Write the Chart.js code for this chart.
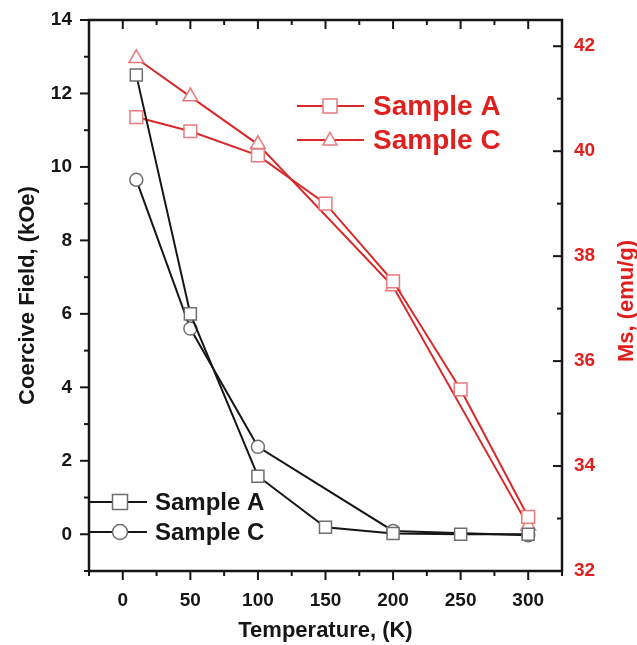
<!DOCTYPE html>
<html>
<head>
<meta charset="utf-8">
<script src="https://cdn.jsdelivr.net/npm/chart.js@4"></script>
<style>
  body { margin: 0; background: #fff; }
  #wrap { width: 637px; height: 645px; }
</style>
</head>
<body>
<div id="wrap"><canvas id="myChart"></canvas></div>
<script>
// temperatures (K)
var tempsA = [10, 50, 100, 150, 200, 250, 300];
var tempsC = [10, 50, 100, 200, 300];
// coercive field (kOe), left axis
var hcA = [12.5, 6.0, 1.58, 0.19, 0.02, 0.0, 0.0];
var hcC = [9.65, 5.6, 2.38, 0.09, -0.03];
// Ms (emu/g), right axis
var msA = [40.65, 40.38, 39.92, 39.0, 37.52, 35.46, 33.03];
var msC = [41.77, 41.04, 40.13, 37.42, 32.86];

var seriesLabels = ['Sample A', 'Sample C'];

var BLACK = '#161616';
var GREY = '#6e6e6e';
var RED = '#d8282a';
var PINK = '#e87a7c';
var RED_TEXT = '#e0201e';
var FONT = "'Liberation Sans', Arial, sans-serif";

Chart.defaults.font.family = FONT;

function pts(xs, ys) {
  return xs.map(function (x, i) { return { x: x, y: ys[i] }; });
}

// box, ticks, right title and the two in-plot legends
var frame = {
  id: 'frame',
  afterDraw: function (chart) {
    var ctx = chart.ctx, a = chart.chartArea, s = chart.scales;
    ctx.save();
    ctx.strokeStyle = BLACK;
    ctx.lineCap = 'butt';
    function seg(x1, y1, x2, y2) {
      ctx.beginPath(); ctx.moveTo(x1, y1); ctx.lineTo(x2, y2); ctx.stroke();
    }
    ctx.lineWidth = 2;
    s.x.ticks.forEach(function (t) {
      var px = s.x.getPixelForValue(t.value);
      var len = t.value % 50 === 0 ? 9 : 5;
      seg(px, a.bottom, px, a.bottom + len);
      seg(px, a.top, px, a.top + len);
    });
    s.y.ticks.forEach(function (t) {
      var py = s.y.getPixelForValue(t.value);
      var len = t.value % 2 === 0 ? 9 : 5;
      seg(a.left - len, py, a.left, py);
    });
    s.y2.ticks.forEach(function (t) {
      var py = s.y2.getPixelForValue(t.value);
      var len = t.value % 2 === 0 ? 9 : 5;
      seg(a.right - len, py, a.right, py);
    });
    ctx.lineWidth = 2.5;
    ctx.strokeRect(a.left, a.top, a.right - a.left, a.bottom - a.top);

    // right axis title
    ctx.save();
    ctx.translate(627, 301);
    ctx.rotate(-Math.PI / 2);
    ctx.fillStyle = RED_TEXT;
    ctx.font = 'bold 22px ' + FONT;
    ctx.textAlign = 'center';
    ctx.textBaseline = 'middle';
    ctx.fillText('Ms, (emu/g)', 0, 0);
    ctx.restore();

    function marker(shape, x, y, r, stroke) {
      ctx.fillStyle = '#fff';
      ctx.strokeStyle = stroke;
      ctx.lineWidth = 1.5;
      ctx.beginPath();
      if (shape === 'rect') {
        ctx.rect(x - r, y - r, 2 * r, 2 * r);
      } else if (shape === 'circle') {
        ctx.arc(x, y, r, 0, Math.PI * 2);
      } else {
        ctx.moveTo(x, y - r * 1.1);
        ctx.lineTo(x + r, y + r * 0.7);
        ctx.lineTo(x - r, y + r * 0.7);
        ctx.closePath();
      }
      ctx.fill();
      ctx.stroke();
    }

    // black legend (coercive field)
    var blk = [['rect', 502], ['circle', 532]];
    blk.forEach(function (b, i) {
      ctx.strokeStyle = BLACK; ctx.lineWidth = 2;
      seg(a.left, b[1], 147, b[1]);
      marker(b[0], 120, b[1], 7.5, GREY);
      ctx.fillStyle = BLACK;
      ctx.font = 'bold 24px ' + FONT;
      ctx.textAlign = 'left';
      ctx.textBaseline = 'middle';
      ctx.fillText(seriesLabels[i], 155, b[1] + 1);
    });
    // red legend (Ms)
    var red = [['rect', 106], ['triangle', 140]];
    red.forEach(function (b, i) {
      ctx.strokeStyle = RED; ctx.lineWidth = 2;
      seg(297, b[1], 364, b[1]);
      marker(b[0], 330, b[1], 7, PINK);
      ctx.fillStyle = RED_TEXT;
      ctx.font = 'bold 28px ' + FONT;
      ctx.textAlign = 'left';
      ctx.textBaseline = 'middle';
      ctx.fillText(seriesLabels[i], 373, b[1] + 1);
    });
    ctx.restore();
  }
};

var ctx = document.getElementById('myChart').getContext('2d');

var myChart = new Chart(ctx, {
  type: 'line',
  data: {
    datasets: [
      {
        label: seriesLabels[0] + ' Hc',
        data: pts(tempsA, hcA),
        yAxisID: 'y',
        borderColor: BLACK,
        borderWidth: 2,
        pointStyle: 'rect',
        pointRadius: 8.5,
        pointBorderColor: GREY,
        pointBorderWidth: 1.5,
        pointBackgroundColor: '#fff'
      },
      {
        label: seriesLabels[1] + ' Hc',
        data: pts(tempsC, hcC),
        yAxisID: 'y',
        borderColor: BLACK,
        borderWidth: 2,
        pointStyle: 'circle',
        pointRadius: 6.5,
        pointBorderColor: GREY,
        pointBorderWidth: 1.5,
        pointBackgroundColor: '#fff'
      },
      {
        label: seriesLabels[0] + ' Ms',
        data: pts(tempsA, msA),
        yAxisID: 'y2',
        borderColor: RED,
        borderWidth: 2,
        pointStyle: 'rect',
        pointRadius: 9,
        pointBorderColor: PINK,
        pointBorderWidth: 1.5,
        pointBackgroundColor: '#fff'
      },
      {
        label: seriesLabels[1] + ' Ms',
        data: pts(tempsC, msC),
        yAxisID: 'y2',
        borderColor: RED,
        borderWidth: 2,
        pointStyle: 'triangle',
        pointRadius: 8.5,
        pointBorderColor: PINK,
        pointBorderWidth: 1.5,
        pointBackgroundColor: '#fff'
      }
    ]
  },
  options: {
    responsive: true,
    maintainAspectRatio: false,
    animation: false,
    layout: { padding: { top: 20, left: 0, right: 0, bottom: 0 } },
    plugins: { legend: { display: false }, tooltip: { enabled: false } },
    scales: {
      x: {
        type: 'linear',
        min: -25,
        max: 325,
        afterFit: function (sc) { sc.height = 74; sc.paddingLeft = 0; sc.paddingRight = 0; },
        grid: { display: false, drawTicks: false },
        border: { display: false },
        ticks: {
          stepSize: 25,
          padding: 18,
          color: BLACK,
          maxRotation: 0,
          autoSkip: false,
          font: { size: 19, weight: 'bold' },
          callback: function (v) { return (v % 50 === 0 && v >= 0 && v <= 300) ? v : ''; }
        },
        title: {
          display: true,
          text: 'Temperature, (K)',
          color: BLACK,
          font: { size: 22, weight: 'bold' },
          padding: { top: 0, bottom: 1 }
        }
      },
      y: {
        type: 'linear',
        position: 'left',
        min: -1,
        max: 14,
        afterFit: function (sc) { sc.width = 89; sc.paddingTop = 0; sc.paddingBottom = 0; },
        grid: { display: false, drawTicks: false },
        border: { display: false },
        ticks: {
          stepSize: 1,
          padding: 17,
          color: BLACK,
          autoSkip: false,
          font: { size: 19, weight: 'bold' },
          callback: function (v) { return (v % 2 === 0 && v >= 0) ? v : ''; }
        },
        title: {
          display: true,
          text: 'Coercive Field, (kOe)',
          color: BLACK,
          font: { size: 22, weight: 'bold' },
          padding: { top: 15, bottom: 0 }
        }
      },
      y2: {
        type: 'linear',
        position: 'right',
        min: 32,
        max: 42.5,
        afterFit: function (sc) { sc.width = 75; sc.paddingTop = 0; sc.paddingBottom = 0; },
        grid: { display: false, drawTicks: false },
        border: { display: false },
        ticks: {
          stepSize: 1,
          includeBounds: false,
          padding: 12,
          color: RED_TEXT,
          autoSkip: false,
          font: { size: 19, weight: 'bold' },
          callback: function (v) { return v % 2 === 0 ? v : ''; }
        }
      }
    }
  },
  plugins: [frame]
});
</script>
</body>
</html>
